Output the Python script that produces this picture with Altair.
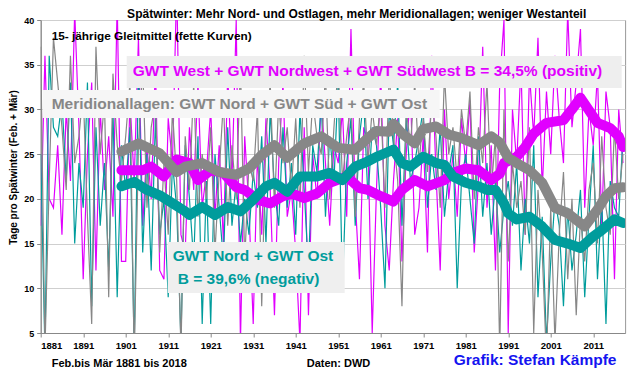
import altair as alt
import pandas as pd

years = list(range(1881, 2019))

# annual values (thin lines)
west_annual = [
    17, 36, 20, 19, 26, 16, 30, 22, 41, 28,
    11, 25, 33, 12, 30, 21, 27, 18, 42, 13,
    13, 31, 22, 38, 17, 26, 20, 35, 12, 11,
    29, 24, 44, 16, 14, 28, 21, 33, 19, 23,
    30, 18, 26, 15, 34, 22, 40, 4, 27, 19,
    6, 25, 16, 29, 21, 7, 24, 33, 18, 21,
    14, 4, 28, 7, 25, 20, 31, 24, 17, 26,
    24, 30, 18, 39, 20, 11, 28, 26, 5, 21,
    34, 17, 12, 22, 29, 13, 25, 32, 16, 19,
    27, 14, 36, 23, 12, 30, 20, 25, 18, 29,
    24, 31, 14, 22, 37, 19, 26, 12, 33, 40,
    5, 30, 24, 35, 16, 34, 27, 38, 21, 32,
    25, 36, 29, 24, 41, 28, 33, 39, 19, 30,
    26, 34, 17, 32, 28, 11, 30, 24,
]
nordost_annual = [
    25, 3, 36, 28, 27, 31, 22, 33, 15, 24,
    19, 33, 8, 28, 17, 24, 12, 30, 9, 26,
    21, 28, 3, 35, 14, 25, 12, 29, 16, 20,
    9, 24, 19, 4, 26, 20, 13, 27, 6, 22,
    6, 25, 19, 13, 28, 17, 22, 15, 20, 16,
    23, 19, 27, 15, 30, 21, 17, 28, 19, 24,
    16, 30, 21, 12, 26, 23, 31, 18, 27, 22,
    33, 10, 24, 29, 17, 27, 31, 20, 28, 26,
    19, 10, 30, 26, 33, 17, 29, 22, 24, 27,
    30, 19, 25, 21, 28, 18, 23, 26, 10, 22,
    25, 20, 15, 27, 18, 24, 16, 22, 14, 19,
    22, 17, 24, 12, 20, 15, 26, 9, 18, 4,
    13, 20, 17, 8, 19, 12, 16, 21, 9, 18,
    26, 11, 20, 6, 22, 19, 18, 27,
]
meri_annual = [
    37, 3, 22, 38, 33, 28, 21, 36, 24, 27,
    32, 18, 6, 37, 25, 31, 9, 34, 26, 22,
    27, 33, 2, 26, 35, 19, 28, 31, 14, 24,
    16, 30, 22, 3, 27, 21, 33, 18, 25, 20,
    28, 14, 23, 31, 17, 26, 20, 35, 13, 24,
    22, 30, 8, 27, 33, 19, 31, 24, 28, 21,
    29, 19, 36, 23, 31, 27, 25, 34, 20, 28,
    35, 22, 27, 31, 18, 29, 33, 24, 30, 26,
    31, 19, 34, 27, 22, 8, 30, 26, 33, 24,
    29, 23, 31, 27, 19, 34, 25, 28, 22, 30,
    26, 32, 20, 28, 24, 33, 21, 27, 3, 30,
    13, 24, 19, 22, 16, 28, 5, 21, 14, 2,
    19, 4, 16, 23, 11, 20, 7, 18, 13, 21,
    24, 15, 27, 19, 16, 28, 20, 25,
]

# 15-year moving averages (thick lines)
meri_sm_years = [1900, 1904, 1909, 1913, 1915, 1919, 1923, 1927, 1930, 1933, 1936, 1939,
                 1943, 1947, 1951, 1955, 1958, 1960, 1963, 1964, 1966, 1969, 1971, 1974,
                 1977, 1980, 1984, 1987, 1989, 1991, 1993, 1996, 1999, 2002, 2005, 2009,
                 2012, 2014, 2016, 2018]
meri_sm = [25.3, 26.2, 25.1, 23.0, 23.6, 24.0, 23.0, 22.7, 23.4, 24.9, 26.0, 24.6,
           26.2, 27.0, 25.7, 25.5, 26.8, 27.6, 27.5, 28.4, 27.3, 26.2, 27.8, 28.1,
           27.2, 26.8, 26.0, 27.0, 26.3, 24.6, 24.0, 23.2, 21.8, 19.0, 18.4, 16.9,
           18.8, 20.3, 21.2, 21.3]
west_sm_years = [1900, 1905, 1907, 1910, 1913, 1916, 1918, 1921, 1924, 1927, 1929, 1932,
                 1935, 1938, 1940, 1943, 1946, 1949, 1953, 1956, 1958, 1961, 1964, 1966,
                 1969, 1972, 1976, 1978, 1981, 1984, 1987, 1989, 1990, 1993, 1995, 1997,
                 2000, 2004, 2006, 2008, 2011, 2012, 2015, 2017, 2018]
west_sm = [23.2, 23.2, 23.6, 22.5, 24.4, 24.0, 22.1, 23.2, 22.9, 21.3, 21.0, 19.9,
           19.5, 20.3, 20.6, 20.1, 20.6, 21.8, 22.5, 21.2, 21.0, 20.3, 19.7, 21.0,
           22.1, 21.4, 22.1, 22.9, 23.4, 23.2, 22.1, 22.8, 24.0, 24.7, 25.8, 27.3,
           28.5, 28.8, 30.0, 31.3, 29.2, 28.5, 27.9, 27.0, 25.8]
nordost_sm_years = [1900, 1903, 1906, 1909, 1912, 1915, 1916, 1919, 1922, 1925, 1928, 1931,
                    1934, 1936, 1939, 1942, 1946, 1949, 1952, 1955, 1958, 1960, 1962, 1964,
                    1966, 1968, 1971, 1974, 1976, 1978, 1981, 1984, 1986, 1988, 1990, 1991,
                    1993, 1996, 1999, 2002, 2005, 2008, 2011, 2013, 2016, 2018]
nordost_sm = [21.4, 21.9, 21.0, 20.4, 19.5, 18.6, 18.2, 19.1, 18.2, 19.1, 18.6, 19.9,
              21.4, 21.8, 20.8, 22.5, 22.5, 22.9, 22.1, 23.6, 24.2, 24.7, 25.1, 25.5,
              24.0, 23.6, 24.7, 24.0, 23.8, 22.5, 21.8, 21.4, 21.0, 21.0, 19.5, 18.4,
              17.7, 18.0, 16.9, 15.4, 15.0, 14.5, 15.8, 16.5, 17.7, 17.3]

series_names = ["West", "Nordost", "Meridional"]
series_colors = ["#E100FF", "#009C9C", "#878787"]

annual = pd.concat([
    pd.DataFrame({"year": years, "value": west_annual, "series": "West"}),
    pd.DataFrame({"year": years, "value": nordost_annual, "series": "Nordost"}),
    pd.DataFrame({"year": years, "value": meri_annual, "series": "Meridional"}),
])
smooth = pd.concat([
    pd.DataFrame({"year": west_sm_years, "value": west_sm, "series": "West"}),
    pd.DataFrame({"year": nordost_sm_years, "value": nordost_sm, "series": "Nordost"}),
    pd.DataFrame({"year": meri_sm_years, "value": meri_sm, "series": "Meridional"}),
])

FONT = "Liberation Sans, Arial, sans-serif"

color = alt.Color("series:N", scale=alt.Scale(domain=series_names, range=series_colors), legend=None)
xenc = alt.X("year:Q", scale=alt.Scale(domain=[1881, 2018.5], nice=False, zero=False),
             axis=alt.Axis(values=list(range(1881, 2019, 10)), format="d", title=None, grid=False,
                           labelFont=FONT, labelFontWeight="bold", labelFontSize=9.5,
                           labelColor="#000", tickSize=4, tickColor="#888", domainColor="#888",
                           labelPadding=3))
yenc = alt.Y("value:Q", scale=alt.Scale(domain=[5, 40], nice=False, zero=False),
             axis=alt.Axis(values=[5, 10, 15, 20, 25, 30, 35, 40], title="Tage pro Spätwinter (Feb. + Mär)",
                           grid=True, gridColor="#cfcfcf", labelFont=FONT, labelFontWeight="bold",
                           labelFontSize=9, labelColor="#000", tickSize=4, tickColor="#888",
                           domainColor="#888", labelPadding=3,
                           titleFont=FONT, titleFontWeight="bold", titleFontSize=10, titleColor="#000",
                           titleX=-27, titleY=147, titleAngle=270, titleAlign="center",
                           titleBaseline="middle"))

thin = alt.Chart(annual).mark_line(strokeWidth=1.2, clip=True).encode(
    x=xenc, y=yenc, color=color, detail="series:N", order="year:Q")

thick = alt.Chart(smooth).mark_line(strokeWidth=10, clip=True, strokeJoin="round", strokeCap="round").encode(
    x="year:Q", y="value:Q", color=color, detail="series:N")


def box(x1, x2, y1, y2, fill):
    return alt.Chart(pd.DataFrame({"a": [0]})).mark_rect(fill=fill).encode(
        x=alt.value(x1), x2=alt.value(x2), y=alt.value(y1), y2=alt.value(y2))


def label(txt, x, y, size, col, align="left"):
    return alt.Chart(pd.DataFrame({"t": [txt]})).mark_text(
        align=align, baseline="middle", fontSize=size, fontWeight="bold", color=col, font=FONT
    ).encode(x=alt.value(x), y=alt.value(y), text="t:N")


annotations = [
    box(86, 581, 36, 68, "#eeeeee"),
    label("GWT West + GWT Nordwest + GWT Südwest B = 34,5% (positiv)", 92, 51, 15.5, "#E100FF"),
    box(2, 399, 70, 98, "#f6f6f6"),
    label("Meridionallagen: GWT Nord + GWT Süd + GWT Ost", 11, 84, 15.5, "#878787"),
    box(127, 304, 222, 273, "#efefef"),
    label("GWT Nord + GWT Ost", 132, 236, 15.5, "#009C9C"),
    label("B = 39,6% (negativ)", 137, 259, 15.5, "#009C9C"),
    label("15- jährige Gleitmittel (fette Kurven)", 11, 16, 11.8, "#000"),
    label("Spätwinter: Mehr Nord- und Ostlagen, mehr Meridionallagen; weniger Westanteil", 316, -6, 12, "#000",
          align="center"),
    label("Feb.bis Mär 1881 bis 2018", 11, 344, 11, "#000"),
    label("Daten:  DWD", 266, 344, 11, "#000"),
    label("Grafik: Stefan Kämpfe", 413, 340, 15.5, "#1414F0"),
]

chart = alt.layer(thin, thick, *annotations).properties(
    width=584.4, height=313,
    autosize=alt.AutoSizeParams(type="none"),
    padding={"left": 32.7, "top": 12, "right": 6.9, "bottom": 36},
    background="white",
).configure_view(stroke="#999999", strokeWidth=1)

chart.save("out.html", embed_options={"renderer": "svg", "actions": False})
